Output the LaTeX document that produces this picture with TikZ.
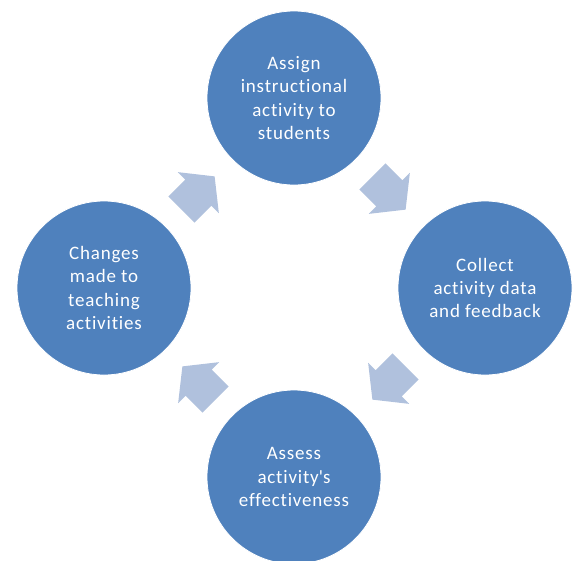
\documentclass[tikz,border=0pt]{standalone}
\usepackage{fontspec}
\setmainfont{Carlito}[Ligatures={NoCommon},LetterSpace=4.2]
\definecolor{circblue}{HTML}{4F81BD}
\definecolor{arrblue}{HTML}{B0C1DD}
\begin{document}
\begin{tikzpicture}[x=1pt,y=-1pt,
  stage/.style={circle,fill=circblue,draw=white,line width=0.8pt,minimum size=174pt,inner sep=0pt,
    text=white,align=center,font=\fontsize{19}{23.3}\selectfont},
  cyclearrow/.style={fill=arrblue,draw=none}]
\useasboundingbox (0,0) rectangle (573,560);
\clip (0,0) rectangle (573,560);
\node[stage] (top) at (294,98) {Assign\\instructional\\activity to\\students};
\node[stage] (right) at (485,288) {Collect\\activity data\\and feedback};
\node[stage] (bottom) at (294,477) {Assess\\activity\textquotesingle s\\effectiveness};
\node[stage] (left) at (104,288) {Changes\\made to\\teaching\\activities};
\foreach \cx/\cy/\ang in {198/193/45, 389/193/-45, 389/383/-135, 199/383/135}{
  \begin{scope}[shift={(\cx,\cy)},rotate=\ang]
    \fill[cyclearrow] (-23.5,-18.4) -- (0.5,-18.4) -- (0.5,-29) -- (23.5,0) -- (0.5,29) -- (0.5,18.4) -- (-23.5,18.4) -- cycle;
  \end{scope}
}
\end{tikzpicture}
\end{document}
